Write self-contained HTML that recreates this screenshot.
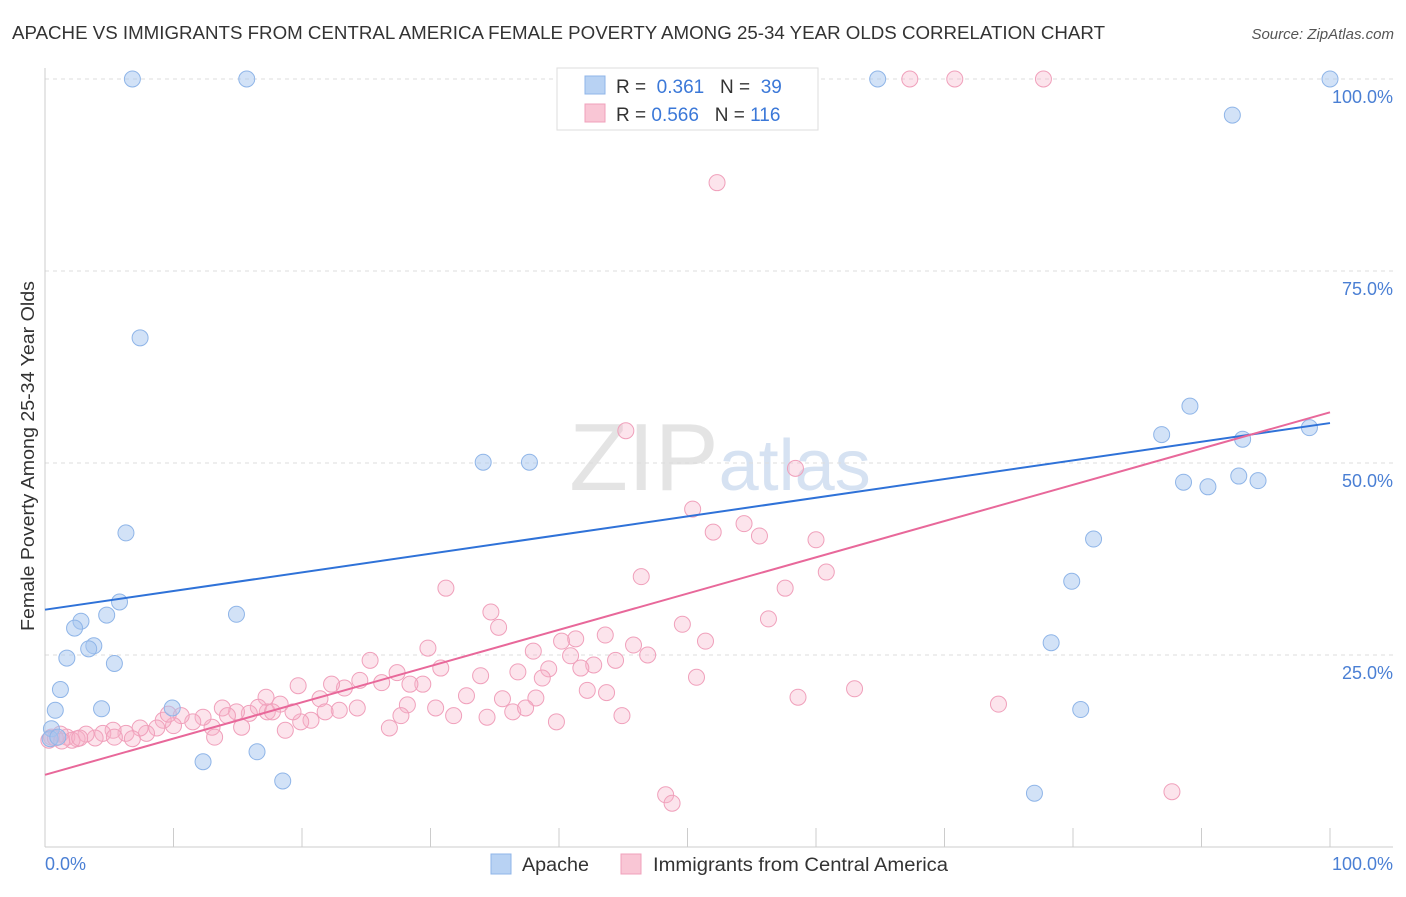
<!DOCTYPE html>
<html><head><meta charset="utf-8"><style>
body{margin:0;background:#fff;font-family:"Liberation Sans",sans-serif;}
svg text{font-family:"Liberation Sans",sans-serif;}
</style></head><body>
<svg width="1406" height="892" xmlns="http://www.w3.org/2000/svg">
<text x="12" y="39" font-size="18" fill="#333" textLength="1093" lengthAdjust="spacingAndGlyphs">APACHE VS IMMIGRANTS FROM CENTRAL AMERICA FEMALE POVERTY AMONG 25-34 YEAR OLDS CORRELATION CHART</text>
<text x="1394" y="39" font-size="15" fill="#555" font-style="italic" text-anchor="end">Source: ZipAtlas.com</text>
<text x="720" y="490" font-size="96" fill="#e4e4e4" text-anchor="middle" font-family="Liberation Serif">ZIP<tspan fill="#d6e2f2" font-family="Liberation Sans" font-size="72">atlas</tspan></text>
<g id="grid"></g>
<line x1="45" y1="68" x2="45" y2="847" stroke="#ccc"/>
<line x1="45" y1="847" x2="1393" y2="847" stroke="#ccc"/>
<g id="xticks"></g>
<text x="45" y="870" font-size="18" fill="#4a7fd4">0.0%</text>
<text x="1393" y="870" font-size="18" fill="#4a7fd4" text-anchor="end">100.0%</text>
<text transform="translate(34,456) rotate(-90)" font-size="18" fill="#333" text-anchor="middle" textLength="350" lengthAdjust="spacingAndGlyphs">Female Poverty Among 25-34 Year Olds</text>
<g id="pts"></g>
<g id="lines"></g>
<g>
<rect x="557" y="68" width="261" height="62" fill="#fff" stroke="#ddd"/>
<rect x="585" y="76" width="20" height="18" fill="#b8d2f3" stroke="#8fb5e8"/>
<rect x="585" y="104" width="20" height="18" fill="#f9c6d5" stroke="#f0a0bb"/>
<text x="616" y="93" font-size="19" fill="#333">R = <tspan fill="#3b78d8">&#160;0.361</tspan>&#160;&#160;&#160;N = <tspan fill="#3b78d8">&#160;39</tspan></text>
<text x="616" y="121" font-size="19" fill="#333">R = <tspan fill="#3b78d8">0.566</tspan>&#160;&#160;&#160;N = <tspan fill="#3b78d8">116</tspan></text>
</g>
<g>
<rect x="491" y="854" width="20" height="20" fill="#b8d2f3" stroke="#8fb5e8"/>
<text x="522" y="871" font-size="19" fill="#333" textLength="67" lengthAdjust="spacingAndGlyphs">Apache</text>
<rect x="621" y="854" width="20" height="20" fill="#f9c6d5" stroke="#f0a0bb"/>
<text x="653" y="871" font-size="19" fill="#333" textLength="295" lengthAdjust="spacingAndGlyphs">Immigrants from Central America</text>
</g>
</svg>
<script>
const yTicks=[25,50,75,100];
const yTickLabels=["25.0%","50.0%","75.0%","100.0%"];
const xTicks=[0,10,20,30,40,50,60,70,80,90,100];
const blueX=[6.8,15.7,64.8,100,92.4,7.4,34.1,37.7,89.1,93.2,98.4,88.6,90.5,92.9,94.4,86.9,81.6,79.9,78.3,80.6,77.0,6.3,5.8,4.8,2.8,2.3,3.8,3.4,1.7,5.4,14.9,1.2,0.8,4.4,9.9,0.5,16.5,12.3,18.5,0.4,1.0];
const blueY=[100,100,100,100,95.3,66.3,50.1,50.1,57.4,53.1,54.6,47.5,46.9,48.3,47.7,53.7,40.1,34.6,26.6,17.9,7.0,40.9,31.9,30.2,29.4,28.5,26.2,25.8,24.6,23.9,30.3,20.5,17.8,18.0,18.1,15.4,12.4,11.1,8.6,14.1,14.3];
const pinkPx=[[910,79],[955,79],[1044,79],[717,183],[626,431],[796,468],[693,509],[713,532],[744,524],[759,536],[816,540],[826,572],[641,577],[785,588],[446,588],[491,612],[498,627],[769,619],[683,624],[605,635],[561,641],[576,639],[706,641],[634,645],[428,648],[648,655],[571,656],[370,660],[615,660],[533,651],[594,665],[441,668],[518,672],[480,676],[549,669],[581,668],[542,678],[397,673],[382,683],[345,688],[360,680],[331,684],[298,686],[320,699],[266,697],[587,690],[606,693],[697,677],[854,689],[798,697],[466,696],[503,699],[536,698],[423,684],[410,684],[408,705],[435,708],[454,716],[487,717],[513,712],[525,708],[556,722],[622,716],[999,704],[357,708],[339,710],[325,712],[311,720],[301,722],[293,712],[280,704],[267,712],[258,707],[249,713],[236,712],[222,708],[228,716],[212,727],[203,717],[193,722],[181,716],[173,726],[163,720],[157,728],[147,733],[140,728],[126,733],[113,730],[103,733],[95,738],[86,734],[77,739],[67,737],[60,734],[52,737],[49,740],[72,740],[80,738],[115,737],[133,739],[168,714],[215,737],[241,727],[272,712],[285,730],[389,728],[401,716],[666,795],[672,803],[1172,792],[55,738],[62,741]];
const pinkX=pinkPx.map(p=>+((p[0]-45)/12.85).toFixed(1));
const pinkY=pinkPx.map(p=>+((847-p[1])/7.68).toFixed(1));
const blueTrend=[30.9,55.2];
const pinkTrend=[9.4,56.6];
const sx=v=>45+12.85*v, sy=v=>847-7.68*v;
const NS="http://www.w3.org/2000/svg";
function mk(tag,attrs,parent){const e=document.createElementNS(NS,tag);for(const k in attrs)e.setAttribute(k,attrs[k]);document.getElementById(parent).appendChild(e);return e;}
yTicks.forEach((t,i)=>{
 const l=mk('line',{x1:45,x2:1393,y1:sy(t),y2:sy(t),stroke:'#ddd','stroke-dasharray':'4,4'},'grid');
 
 
 const tx=mk('text',{x:1393,y:sy(t)+24,'font-size':18,fill:'#4a7fd4','text-anchor':'end'},'grid');
 tx.textContent=yTickLabels[i];
 
 
});
xTicks.forEach(t=>{
 const l=mk('line',{x1:sx(t),x2:sx(t),y1:828,y2:847,stroke:'#ccc'},'xticks');
 
 
});
pinkX.forEach((x,i)=>{
 const c=mk('circle',{cx:sx(x),cy:sy(pinkY[i]),r:8,fill:'rgba(246,178,200,0.35)',stroke:'#f0a0bb','stroke-width':1},'pts');
 
 
});
blueX.forEach((x,i)=>{
 const c=mk('circle',{cx:sx(x),cy:sy(blueY[i]),r:8,fill:'rgba(165,198,240,0.5)',stroke:'#8fb5e8','stroke-width':1},'pts');
 
 
});
const bl=mk('line',{x1:sx(0),y1:sy(blueTrend[0]),x2:sx(100),y2:sy(blueTrend[1]),stroke:'#2f72d8','stroke-width':2},'lines');


const pl=mk('line',{x1:sx(0),y1:sy(pinkTrend[0]),x2:sx(100),y2:sy(pinkTrend[1]),stroke:'#e8689a','stroke-width':2},'lines');


</script>
</body></html>
